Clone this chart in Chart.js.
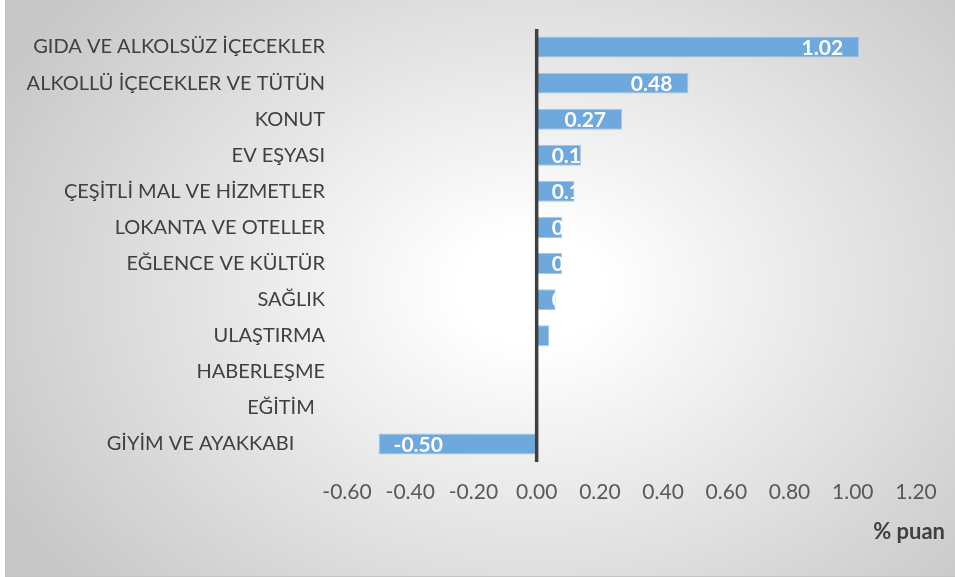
<!doctype html>
<html>
<head>
    <title>Harcama gruplarının katkısı</title>
    <script src="https://cdn.jsdelivr.net/npm/chart.js@4.4.0/dist/chart.umd.min.js"></script>
    <style>
        body { margin: 0; background: #fff; }
        #frame {
            position: absolute; left: 5px; top: -1px; width: 955px; height: 576px;
            border: 1px solid #c4c4c4;
            background: radial-gradient(ellipse 62% 78% at 55% 50%, #ffffff 12%, #c8c8c8 100%);
        }
        #wrap { position: absolute; left: 0; top: 0; width: 955px; height: 577px; }
    </style>
</head>
<body>
    <div id="frame"></div>
    <div id="wrap"><canvas id="myChart"></canvas></div>
    <script>
        // categories top to bottom (trailing spaces kept as in the source labels)
        var categories = [
            'GIDA VE ALKOLSÜZ İÇECEKLER',
            'ALKOLLÜ İÇECEKLER VE TÜTÜN',
            'KONUT',
            'EV EŞYASI',
            'ÇEŞİTLİ MAL VE HİZMETLER',
            'LOKANTA VE OTELLER',
            'EĞLENCE VE KÜLTÜR',
            'SAĞLIK',
            'ULAŞTIRMA',
            'HABERLEŞME',
            'EĞİTİM  ',
            'GİYİM VE AYAKKABI      '
        ];
        var values = [1.02, 0.48, 0.27, 0.14, 0.12, 0.08, 0.08, 0.06, 0.04, 0.00, 0.00, -0.50];
        var xMin = -0.6, xMax = 1.2, xStep = 0.2;
        var unitLabel = '% puan';

        var valueLabels = {
            id: 'valueLabels',
            afterDatasetsDraw: function(chart) {
                var ctx = chart.ctx;
                var meta = chart.getDatasetMeta(0);
                var x = chart.scales.x;
                var zero = x.getPixelForValue(0);
                ctx.save();
                ctx.font = 'bold 21px Lato';
                ctx.fillStyle = '#ffffff';
                ctx.textBaseline = 'middle';
                ctx.textAlign = 'left';
                meta.data.forEach(function(bar, i) {
                    var v = values[i];
                    if (v === 0) return;
                    var txt = v.toFixed(2);
                    var w = ctx.measureText(txt).width;
                    var left = Math.min(bar.x, bar.base), right = Math.max(bar.x, bar.base);
                    var tx = v > 0 ? Math.max(bar.x - 16 - w, zero + 15) : bar.x + 15;
                    ctx.save();
                    ctx.beginPath();
                    ctx.rect(left, bar.y - bar.height / 2, right - left, bar.height);
                    ctx.clip();
                    ctx.fillText(txt, tx, bar.y + 1);
                    ctx.restore();
                });
                // zero axis line over the bars
                var area = chart.chartArea;
                ctx.strokeStyle = '#404040';
                ctx.lineWidth = 3.5;
                ctx.beginPath();
                ctx.moveTo(zero, area.top);
                ctx.lineTo(zero, area.bottom);
                ctx.stroke();
                // unit label
                ctx.font = 'bold 22px Lato';
                ctx.fillStyle = '#404040';
                ctx.textAlign = 'right';
                ctx.fillText(unitLabel, 945, 532);
                ctx.restore();
            }
        };

        var ctx = document.getElementById('myChart').getContext('2d');
        var _chart = new Chart(ctx, {
            type: 'bar',
            data: {
                labels: categories,
                datasets: [{
                    data: values,
                    backgroundColor: '#6fa8dc',
                    borderColor: '#a6c8ea',
                    borderWidth: 1,
                    barPercentage: 0.58,
                    categoryPercentage: 1
                }]
            },
            options: {
                indexAxis: 'y',
                responsive: true,
                maintainAspectRatio: false,
                animation: false,
                layout: { padding: { top: 29, right: 39, left: 0, bottom: 0 } },
                plugins: {
                    legend: { display: false },
                    tooltip: { enabled: false }
                },
                scales: {
                    x: {
                        min: xMin,
                        max: xMax,
                        grid: { display: false, drawTicks: false },
                        border: { display: false },
                        ticks: {
                            stepSize: xStep,
                            padding: 18,
                            color: '#595959',
                            font: { family: 'Lato', size: 21 },
                            callback: function(v) { return v.toFixed(2); }
                        },
                        afterFit: function(s) { s.height = 115; s.paddingLeft = 0; s.paddingRight = 0; }
                    },
                    y: {
                        grid: { display: false, drawTicks: false },
                        border: { display: false },
                        ticks: {
                            padding: 22,
                            color: '#404040',
                            font: { family: 'Lato', size: 20 }
                        },
                        afterFit: function(s) { s.width = 347; s.paddingTop = 0; s.paddingBottom = 0; }
                    }
                }
            },
            plugins: [valueLabels]
        });
    </script>
</body>
</html>
